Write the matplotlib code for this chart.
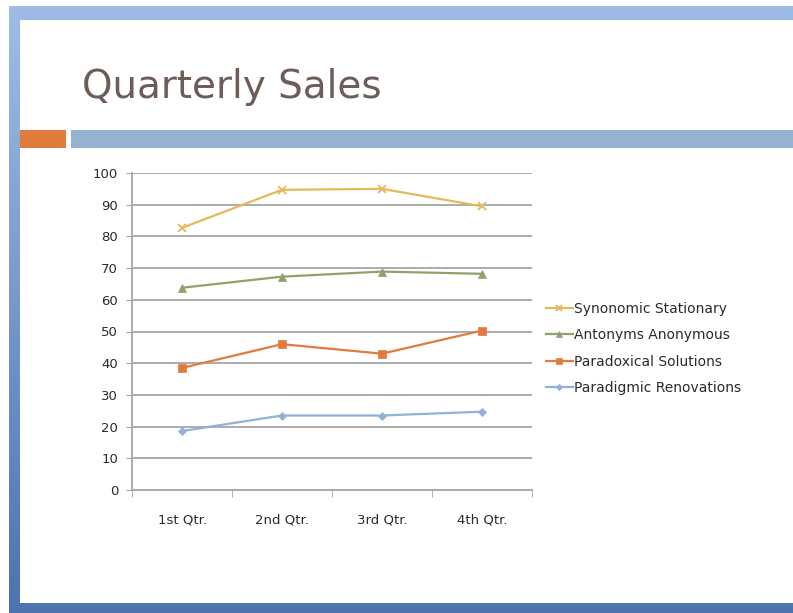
import numpy as np
import matplotlib
matplotlib.use("Agg")
import matplotlib.pyplot as plt
from matplotlib.patches import Rectangle

categories = ["1st Qtr.", "2nd Qtr.", "3rd Qtr.", "4th Qtr."]
synonomic = [82.7, 94.7, 95.0, 89.5]
antonyms = [63.8, 67.3, 68.9, 68.2]
paradoxical = [38.5, 46.0, 43.0, 50.3]
paradigmic = [18.6, 23.5, 23.5, 24.7]
series_names = ["Synonomic Stationary", "Antonyms Anonymous",
                "Paradoxical Solutions", "Paradigmic Renovations"]
y_ticks = [0, 10, 20, 30, 40, 50, 60, 70, 80, 90, 100]

W, H = 793, 613
fig = plt.figure(figsize=(W / 100, H / 100), dpi=100)

# background frame (pixel coordinates)
bg = fig.add_axes([0, 0, 1, 1])
bg.set_xlim(0, W)
bg.set_ylim(H, 0)
bg.axis("off")
grad = np.linspace(0, 1, 256).reshape(-1, 1)
top_c = np.array([0.62, 0.74, 0.90])
bot_c = np.array([0.30, 0.45, 0.69])
img = top_c[None, None, :] * (1 - grad[:, :, None]) + bot_c[None, None, :] * grad[:, :, None]
bg.imshow(img, extent=[9, W, H, 6], aspect="auto", zorder=0)
bg.add_patch(Rectangle((20, 20), W - 20, 603 - 20, facecolor="white", edgecolor="none", zorder=1))
# header bars
bg.add_patch(Rectangle((20, 130), 46, 18, facecolor="#e07b3c", edgecolor="none", zorder=2))
bg.add_patch(Rectangle((71, 130), W - 71, 18, facecolor="#93b3d0", edgecolor="none", zorder=2))
bg.text(82, 87, "Quarterly Sales", fontsize=28, color="#6e5c57", va="center", ha="left",
        family="DejaVu Sans", zorder=3)

# chart area
left, right = 132 / W, 532 / W
bottom, top = (H - 490) / H, (H - 173) / H
ax = fig.add_axes([left, bottom, right - left, top - bottom])
ax.set_facecolor("none")
x = np.arange(len(categories)) + 0.5

colors = ["#e6b85c", "#8ea36a", "#e07b3c", "#8fb2d8"]
markers = ["x", "^", "s", "D"]
sizes = [6, 6, 6, 4]
data = [synonomic, antonyms, paradoxical, paradigmic]
handles = []
for vals, c, m, s, name in zip(data, colors, markers, sizes, series_names):
    h, = ax.plot(x, vals, color=c, marker=m, markersize=s, linewidth=1.6,
                 markeredgewidth=1.3 if m == "x" else 0.5, markeredgecolor=c, label=name, zorder=3)
    handles.append(h)

ax.set_xlim(0, 4)
ax.set_ylim(0, 100)
ax.set_yticks(y_ticks)
ax.yaxis.grid(True, color="#a6a6a6", linewidth=1.3)
ax.set_axisbelow(True)
ax.set_xticks(x)
ax.set_xticklabels(categories)
ax.set_xticks([0, 1, 2, 3, 4], minor=True)
ax.tick_params(axis="x", which="major", length=0, pad=17, labelsize=9.5, labelcolor="#2b2b2b")
ax.tick_params(axis="x", which="minor", length=5, color="#a6a6a6", direction="out")
ax.tick_params(axis="y", length=4, color="#a6a6a6", labelsize=9.5, labelcolor="#2b2b2b", pad=6)
for sp in ["top", "right"]:
    ax.spines[sp].set_visible(False)
for sp in ["left", "bottom"]:
    ax.spines[sp].set_color("#a6a6a6")
    ax.spines[sp].set_linewidth(1.3)

leg = fig.legend(handles=handles, loc="upper left", bbox_to_anchor=(540 / W, 1 - 296 / H),
                 frameon=False, fontsize=10, handlelength=2.0, handletextpad=0.05,
                 labelspacing=0.9, borderaxespad=0, markerscale=0.8)
for t in leg.get_texts():
    t.set_color("#2b2b2b")

fig.savefig("out.png", dpi=100)
